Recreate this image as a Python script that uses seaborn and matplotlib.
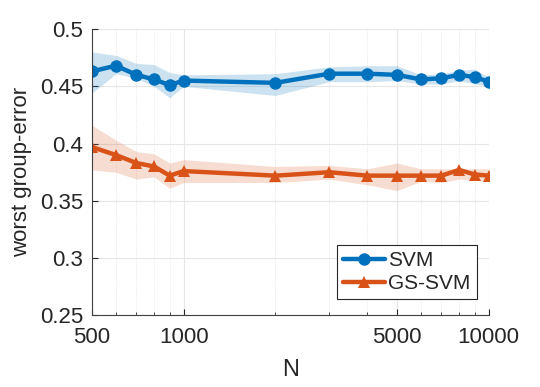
import matplotlib
matplotlib.use("Agg")
import matplotlib.pyplot as plt
import matplotlib.ticker as mticker
import numpy as np
import pandas as pd
import seaborn as sns

# ── data ──────────────────────────────────────────────────────────────────────
n_values = [500, 600, 700, 800, 900, 1000, 2000, 3000, 4000, 5000, 6000, 7000, 8000, 9000, 10000]

svm_mean = [0.463, 0.468, 0.460, 0.456, 0.451, 0.455, 0.453, 0.461, 0.461, 0.460, 0.456, 0.457, 0.460, 0.458, 0.454]
svm_low  = [0.444, 0.461, 0.457, 0.450, 0.440, 0.450, 0.442, 0.454, 0.454, 0.455, 0.452, 0.452, 0.455, 0.452, 0.450]
svm_high = [0.480, 0.477, 0.470, 0.469, 0.462, 0.460, 0.461, 0.467, 0.468, 0.468, 0.460, 0.461, 0.464, 0.465, 0.458]

gs_mean = [0.397, 0.390, 0.383, 0.380, 0.372, 0.376, 0.372, 0.375, 0.372, 0.372, 0.372, 0.372, 0.377, 0.373, 0.372]
gs_low  = [0.377, 0.375, 0.369, 0.371, 0.361, 0.366, 0.366, 0.369, 0.364, 0.359, 0.367, 0.366, 0.369, 0.368, 0.367]
gs_high = [0.416, 0.403, 0.393, 0.391, 0.383, 0.386, 0.380, 0.381, 0.378, 0.383, 0.378, 0.378, 0.378, 0.378, 0.378]

y_ticks = [0.25, 0.3, 0.35, 0.4, 0.45, 0.5]
x_ticks = [500, 1000, 5000, 10000]

BLUE = "#0072BD"
ORANGE = "#D95319"

sns.set_style("ticks")
plt.rcParams["font.family"] = ["Liberation Sans", "DejaVu Sans"]

df = pd.DataFrame({
    "N": n_values * 2,
    "err": svm_mean + gs_mean,
    "method": ["SVM"] * len(n_values) + ["GS-SVM"] * len(n_values),
})

fig, ax = plt.subplots(figsize=(5.4, 3.87), dpi=100)

ax.fill_between(n_values, svm_low, svm_high, color=BLUE, alpha=0.2, lw=0)
ax.fill_between(n_values, gs_low, gs_high, color=ORANGE, alpha=0.2, lw=0)

sns.lineplot(data=df, x="N", y="err", hue="method", style="method",
             palette={"SVM": BLUE, "GS-SVM": ORANGE},
             markers={"SVM": "o", "GS-SVM": "^"}, dashes=False,
             lw=3.2, markersize=9, markeredgewidth=0, ax=ax)

ax.set_xscale("log")
ax.set_xlim(500, 10000)
ax.set_ylim(0.25, 0.5)
ax.set_xticks(x_ticks)
ax.xaxis.set_major_formatter(mticker.FixedFormatter([str(v) for v in x_ticks]))
ax.xaxis.set_minor_locator(mticker.LogLocator(base=10, subs=np.arange(2, 10)))
ax.xaxis.set_minor_formatter(mticker.NullFormatter())
ax.set_yticks(y_ticks)
ax.set_yticklabels([f"{v:g}" for v in y_ticks])

ax.grid(which="major", color="#e6e6e6", lw=0.8, ls="-")
ax.grid(which="minor", axis="x", color="#e0e0e0", lw=0.6, ls=":")
ax.set_axisbelow(True)

ax.tick_params(which="both", direction="in", labelsize=16, colors="#262626")
ax.tick_params(which="major", length=4)
ax.tick_params(which="minor", length=2)
ax.tick_params(axis="x", which="major", pad=8)
ax.tick_params(axis="y", which="major", pad=6)
for s in ["top", "right"]:
    ax.spines[s].set_visible(False)
for s in ["left", "bottom"]:
    ax.spines[s].set_color("#404040")
    ax.spines[s].set_linewidth(0.8)

ax.set_xlabel("N", fontsize=17, color="#262626", labelpad=8)
ax.set_ylabel("worst group-error", fontsize=16, color="#262626", labelpad=6)

leg = ax.legend(loc="lower right", fontsize=15, frameon=True, fancybox=False,
                edgecolor="#262626", framealpha=1, handlelength=2.0,
                handletextpad=0.15, borderpad=0.3, labelspacing=0.2,
                borderaxespad=0, bbox_to_anchor=(0.97, 0.056))
leg.get_frame().set_linewidth(0.8)

fig.subplots_adjust(left=0.17, right=0.905, top=0.925, bottom=0.185)
fig.savefig("out.png", dpi=100)
